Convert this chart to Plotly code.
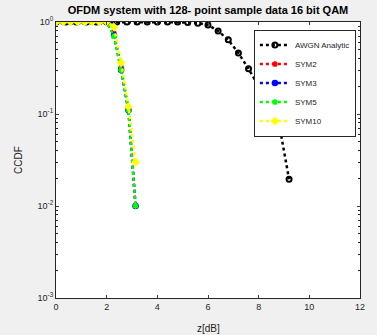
import plotly.graph_objects as go

# ---- data ----
awgn_x = [0, 0.4, 0.8, 1.2, 1.6, 2.0, 2.4, 2.8, 3.2, 3.6, 4.0, 4.4, 4.8, 5.2,
          5.6, 6.0, 6.4, 6.8, 7.2, 7.6, 8.0, 8.4, 8.8, 9.2]
awgn_y = [1.0, 1.0, 1.0, 1.0, 1.0, 1.0, 1.0, 1.0, 1.0, 1.0, 1.0, 1.0, 1.0, 0.99,
          0.97, 0.93, 0.80, 0.64, 0.46, 0.31, 0.20, 0.13, 0.08, 0.0195]

sym_x = [0, 0.29, 0.57, 0.86, 1.14, 1.43, 1.71, 2.0, 2.29, 2.57, 2.86, 3.14]
sym2_y = [1, 1, 1, 1, 1, 1, 1, 1, 0.75, 0.32, 0.11, 0.010]
sym3_y = [1, 1, 1, 1, 1, 1, 1, 1, 0.72, 0.30, 0.11, 0.010]
sym5_y = [1, 1, 1, 1, 1, 1, 1, 1, 0.70, 0.30, 0.11, 0.010]
sym10_y = [1, 1, 1, 1, 1, 1, 1, 1, 0.88, 0.36, 0.12, 0.030]

x_ticks = [0, 2, 4, 6, 8, 10, 12]
y_ticks = [1e-3, 1e-2, 1e-1, 1]
y_ticktext = ["10<sup>-3</sup>", "10<sup>-2</sup>", "10<sup>-1</sup>", "10<sup>0</sup>"]

FONT = "Liberation Sans, Arial, Helvetica, sans-serif"

fig = go.Figure()

fig.add_trace(go.Scatter(
    x=awgn_x, y=awgn_y, name="AWGN Analytic", mode="lines+markers",
    line=dict(color="black", width=2.5, dash="dot"),
    marker=dict(symbol="circle-open", size=5, color="black", line=dict(width=2))))

series = [
    ("SYM2", sym2_y, "#ff0000", "asterisk-open"),
    ("SYM3", sym3_y, "#0000ff", "circle"),
    ("SYM5", sym5_y, "#00ff00", "asterisk-open"),
    ("SYM10", sym10_y, "#ffff00", "diamond"),
]
for name, ys, col, sym in series:
    fig.add_trace(go.Scatter(
        x=sym_x, y=ys, name=name, mode="lines+markers",
        line=dict(color=col, width=2.5, dash="dot"),
        marker=dict(symbol=sym, size=5, color=col, line=dict(width=1.5, color=col))))

fig.update_layout(
    width=377, height=335,
    margin=dict(l=56, r=15, t=22, b=37),
    paper_bgcolor="#f0f0f0", plot_bgcolor="white",
    font=dict(family=FONT, size=9, color="#262626"),
    showlegend=True,
    legend=dict(x=0.651, y=0.9725, xanchor="left", yanchor="top",
                bgcolor="white", bordercolor="#262626", borderwidth=1,
                font=dict(size=8, color="#262626"), itemwidth=30,
                tracegroupgap=0),
    title=dict(text="<b>OFDM system with 128- point sample data 16 bit QAM</b>",
               x=208 / 377, xanchor="center", y=1 - 10 / 335, yanchor="middle",
               yref="container", xref="container",
               font=dict(size=11, color="#000000", family=FONT)),
)

fig.update_xaxes(range=[0, 12], tickvals=x_ticks, ticks="inside", ticklen=3,
                 showline=True, linecolor="#262626", linewidth=1, mirror="ticks",
                 showgrid=False, zeroline=False, tickfont=dict(size=9))
fig.update_yaxes(type="log", range=[-3, 0], tickvals=y_ticks, ticktext=y_ticktext,
                 ticks="inside", ticklen=3,
                 minor=dict(ticks="inside", ticklen=2, dtick="D1", showgrid=False,
                            tickcolor="#262626"),
                 showline=True, linecolor="#262626", linewidth=1, mirror="ticks",
                 showgrid=False, zeroline=False, tickfont=dict(size=9))

fig.add_annotation(text="z[dB]", xref="paper", yref="paper", x=0.5, y=-0.11,
                   showarrow=False, yanchor="middle", font=dict(size=10))
fig.add_annotation(text="CCDF", xref="paper", yref="paper", x=-0.125, y=0.5,
                   showarrow=False, textangle=-90, xanchor="center", font=dict(size=10))

fig.write_html("out.html")
